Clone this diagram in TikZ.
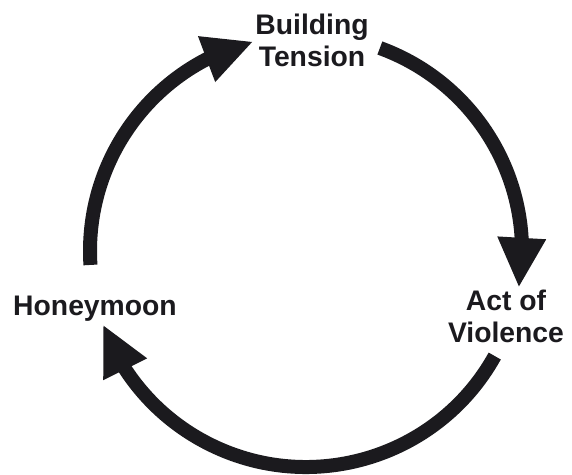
\documentclass[tikz,border=0pt]{standalone}
\usepackage{fontspec}
\setmainfont{Liberation Sans}
\usetikzlibrary{arrows.meta,bending}
\definecolor{ink}{HTML}{1B1A1E}
\begin{document}
\begin{tikzpicture}[x=1pt,y=1pt,
  phase/.style={font=\bfseries\fontsize{28.3}{32}\selectfont, align=center,
                inner sep=0pt, text=ink},
  cyclearrow/.style={line width=14pt, draw=ink,
                -{Triangle[length=50pt,width=45pt,flex]}}]
\useasboundingbox (0,0) rectangle (572,474);

% centre of the cycle
\coordinate (C) at (306,223);

% the three phases (base = baseline of the last line)
\node[phase, anchor=base] (tension)  at (312,407) {Building\\Tension};
\node[phase, anchor=base] (violence) at (506,132) {Act of\\Violence};
\node[phase, anchor=base] (honeymoon) at (95,159) {Honeymoon};

% start and end points of the arcs on the circle
\path (C) ++(183.7:216) coordinate (hm-out);
\path (C) ++(104.1:216) coordinate (bt-in);
\path (C) ++(70.0:216)  coordinate (bt-out);
\path (C) ++(-9.8:216)  coordinate (av-in);
\path (C) ++(-29.1:216) coordinate (av-out);
\path (C) ++(-160.1:216) coordinate (hm-in);

% the cycle, running clockwise
\draw[cyclearrow] (hm-out) arc[start angle=183.7, end angle=104.1, radius=216pt];
\draw[cyclearrow] (bt-out) arc[start angle=70.0, end angle=-9.8, radius=216pt];
\draw[cyclearrow] (av-out) arc[start angle=-29.1, end angle=-160.1, radius=216pt];
\end{tikzpicture}
\end{document}
